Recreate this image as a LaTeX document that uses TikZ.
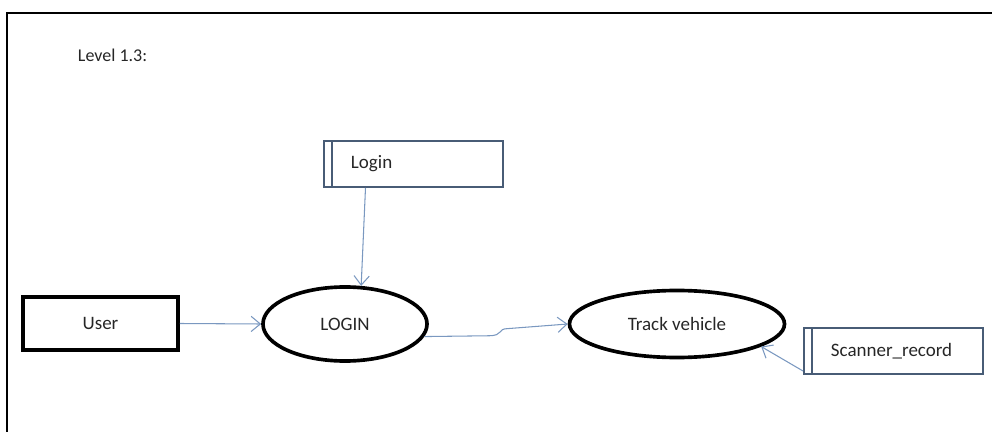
\documentclass[tikz,border=0pt]{standalone}
\usepackage{fontspec}
\setmainfont{Carlito}
\usetikzlibrary{arrows.meta}
\usetikzlibrary{shapes.geometric}
\definecolor{flow}{RGB}{122,152,192}
\definecolor{storeline}{RGB}{72,92,118}
\definecolor{ink}{RGB}{38,38,38}

\begin{document}
\begin{tikzpicture}[x=0.025cm,y=-0.025cm,
  font=\fontsize{13.5}{16}\selectfont,text=ink,
  entity/.style={rectangle,draw=black,line width=2.5pt,minimum width=3.875cm,minimum height=1.325cm},
  process/.style={ellipse,draw=black,line width=2.6pt,inner sep=0pt},
  store/.style={rectangle,draw=storeline,line width=1.4pt,text width=3.125cm,align=left,
    inner xsep=0.675cm,minimum height=1.15cm,
    path picture={\draw[storeline,line width=0.9pt] ([xshift=0.2cm]path picture bounding box.north west) -- ([xshift=0.2cm]path picture bounding box.south west);}},
  flowline/.style={draw=flow,line width=0.75pt,-{Straight Barb[length=2.3mm,width=3.8mm]}}]
\useasboundingbox (0,0) rectangle (992,432);
\draw [line width=1.7pt] (7,432) -- (7,13) -- (992,13);
\node at (73, 55) (T) [anchor=west,font=\fontsize{12.8}{15}\selectfont] {Level 1.3:};
\node at (413.5,164) (D1) [store] {Login};
\node at (100.5,323.5) (U) [entity] {User};
\node at (345,324) (P1) [process,minimum width=4.1cm,minimum height=1.85cm] {LOGIN};
\node at (677,324) (P2) [process,minimum width=5.375cm,minimum height=1.675cm] {Track vehicle};
\node at (893.5,351) (D2) [store] {Scanner\_record};
\draw [flowline] ([xshift=-1.2cm]D1.south) -- (P1.67);
\draw [flowline] (U.east) -- (P1.west);
\draw [flowline] (P1.-9) -- +(1.6cm,0.02cm) .. controls +(0.4cm,0) and +(-0.3cm,0) .. +(2.1cm,0.2cm) -- (P2.west);
\draw [flowline] ([yshift=0.1cm]D2.south west) -- (P2.-15);
\end{tikzpicture}
\end{document}
